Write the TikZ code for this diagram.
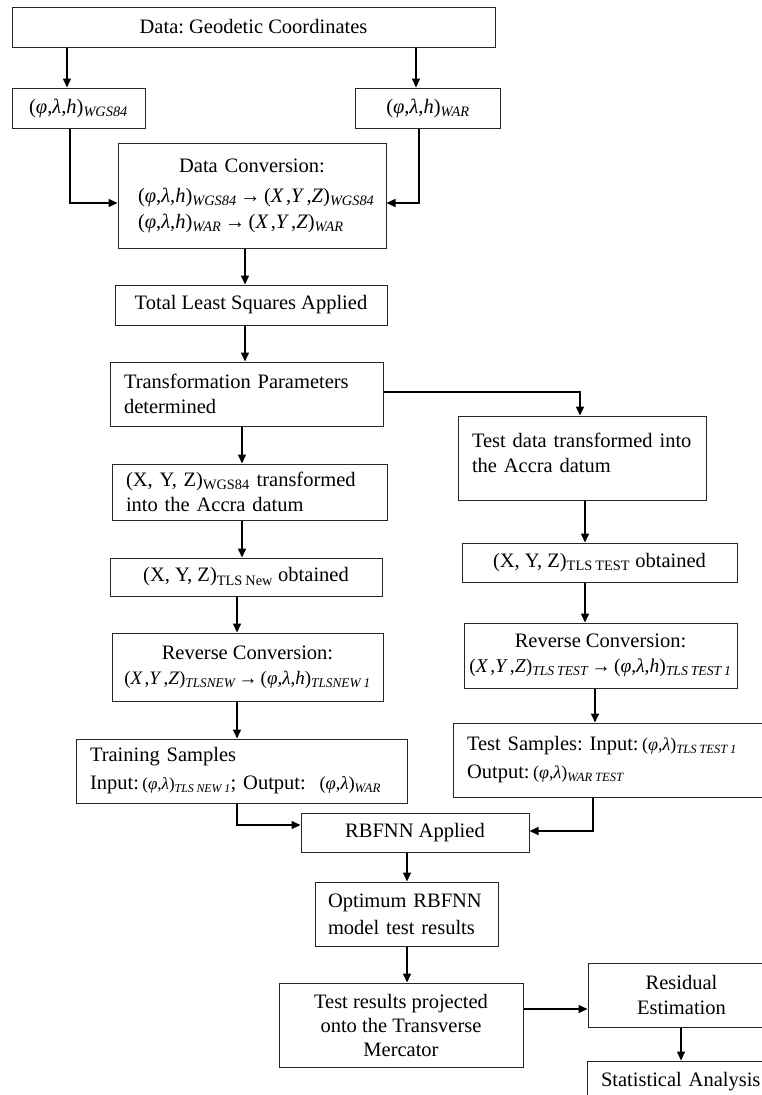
\documentclass[tikz,border=0pt]{standalone}
\usepackage{fontspec}
\setmainfont{Liberation Serif}
\usetikzlibrary{arrows.meta}
\newcommand{\plh}{(\textit{φ},\textit{λ},\textit{h})}
\newcommand{\pl}{(\textit{φ},\textit{λ})}
\newcommand{\XYZi}{(\textit{X}\kern.1em,\textit{Y}\kern.1em,\textit{Z})}
\newcommand{\isub}[1]{\textsubscript{\itshape #1}}
\newcommand{\rsub}[1]{\textsubscript{#1}}
\newcommand{\ks}{\kern.22em}
\begin{document}
\frenchspacing
\begin{tikzpicture}[x=1pt,y=-1pt,
  box/.style={draw=black!85, line width=1pt, rectangle, inner sep=0pt, align=center,
    font=\fontsize{20.5}{25}\selectfont},
  lbox/.style={box, align=left},
  arr/.style={line width=1.5pt, -{Triangle[length=9pt,width=8pt]}}]
\useasboundingbox (0,0) rectangle (762,1095);
\clip (0,0) rectangle (762,1095);

% left / main column
\node[box, minimum width=483pt, minimum height=40pt] (data) at (253.5,27) {Data: Geodetic Coordinates};
\node[box, minimum width=133pt, minimum height=40pt] (wgs) at (78.5,108) {\plh\isub{WGS84}};
\node[box, minimum width=145pt, minimum height=40pt] (war) at (428,108) {\plh\isub{WAR}};
\node[lbox, text width=228pt, inner xsep=20pt, minimum height=105pt] (dc) at (252,195.5)
  {\makebox[228pt]{Data Conversion:}\\[5pt]
   \plh\isub{WGS84}\,→\,\XYZi\isub{WGS84}\\[1pt]
   \plh\isub{WAR}\,→\,\XYZi\isub{WAR}};
\node[box, minimum width=272pt, minimum height=40pt] (tls) at (251,305) {Total Least Squares Applied};
\node[lbox, text width=245pt, inner xsep=14pt, minimum height=64pt] (tp) at (246.5,394)
  {Transformation Parameters\\determined};
\node[lbox, text width=247pt, inner xsep=14pt, minimum height=56pt] (xyzw) at (249.5,492)
  {(X, Y, Z)\rsub{WGS84} transformed\\into the Accra datum};
\node[box, minimum width=272pt, minimum height=38pt] (tlsnew) at (246,577)
  {(X, Y, Z)\rsub{TLS\ks New} obtained};
\node[box, minimum width=271pt, minimum height=68pt] (rcl) at (247.5,667)
  {Reverse Conversion:\\{\fontsize{19}{22}\selectfont \XYZi\isub{TLSNEW}\,→\,\plh\isub{TLSNEW\ks 1}}};
\node[lbox, text width=303pt, inner xsep=14pt, minimum height=64pt, font=\fontsize{20.5}{28}\selectfont] (train) at (241.5,771)
  {Training Samples\\Input:\,{\fontsize{17}{20}\selectfont\pl\isub{TLS\ks NEW\ks 1}}; Output:\ \ {\fontsize{18.5}{20}\selectfont\pl\isub{WAR}}};

% right column
\node[lbox, text width=220pt, inner xsep=14pt, minimum height=84pt] (testdata) at (582,458)
  {Test data transformed into\\the Accra datum\\[-14pt]\mbox{}};
\node[box, minimum width=275pt, minimum height=39pt] (tlstest) at (599.5,562.5)
  {(X, Y, Z)\rsub{TLS\ks TEST} obtained};
\node[box, minimum width=273pt, minimum height=65pt] (rcr) at (600.5,655.5)
  {Reverse Conversion:\\{\fontsize{19.5}{22}\selectfont \XYZi\isub{TLS\ks TEST}\,→\,\plh\isub{TLS\ks TEST\ks 1}}};
\node[lbox, text width=294pt, inner xsep=14pt, minimum height=74pt, font=\fontsize{20.5}{28}\selectfont] (tsamp) at (614,760)
  {Test Samples: Input:\,{\fontsize{18}{20}\selectfont\pl\isub{TLS\ks TEST\ks 1}}\\Output:\,{\fontsize{18}{20}\selectfont\pl\isub{WAR\ks TEST}}};

% bottom
\node[box, minimum width=228pt, minimum height=39pt] (rbf) at (415,832.5) {RBFNN Applied};
\node[lbox, text width=157pt, inner xsep=13pt, minimum height=64pt, font=\fontsize{20.5}{27}\selectfont] (opt) at (406.5,914)
  {Optimum RBFNN\\model test results};
\node[box, minimum width=244pt, minimum height=84pt, font=\fontsize{20.5}{24}\selectfont] (tres) at (401,1025)
  {Test results projected\\onto the Transverse\\Mercator};
\node[box, minimum width=187pt, minimum height=64pt] (resid) at (681.5,995) {Residual\\Estimation};
\node[lbox, text width=160pt, inner xsep=14pt, minimum height=42pt] (stat) at (681,1082) {Statistical Analysis};

% helper coordinates for connector positions
\coordinate (x67) at (67,0);
\coordinate (x416) at (416,0);
\coordinate (x70) at (70,0);
\coordinate (x419) at (419,0);
\coordinate (y203) at (0,203);
\coordinate (x245) at (245,0);
\coordinate (x242) at (242,0);
\coordinate (x237) at (237,0);
\coordinate (y392) at (0,392);
\coordinate (x580) at (580,0);
\coordinate (x585) at (585,0);
\coordinate (x595) at (595,0);
\coordinate (x593) at (593,0);
\coordinate (y825) at (0,825);
\coordinate (y831) at (0,831);
\coordinate (x407) at (407,0);
\coordinate (y1009) at (0,1009);
\coordinate (x681) at (681,0);

\draw[arr] (data.south -| x67) -- (wgs.north -| x67);
\draw[arr] (data.south -| x416) -- (war.north -| x416);
\draw[arr] (wgs.south -| x70) |- (dc.west |- y203);
\draw[arr] (war.south -| x419) |- (dc.east |- y203);
\draw[arr] (dc.south -| x245) -- (tls.north -| x245);
\draw[arr] (tls.south -| x245) -- (tp.north -| x245);
\draw[arr] (tp.east |- y392) -| (testdata.north -| x580);
\draw[arr] (tp.south -| x242) -- (xyzw.north -| x242);
\draw[arr] (xyzw.south -| x242) -- (tlsnew.north -| x242);
\draw[arr] (tlsnew.south -| x237) -- (rcl.north -| x237);
\draw[arr] (rcl.south -| x237) -- (train.north -| x237);
\draw[arr] (train.south -| x237) |- (rbf.west |- y825);
\draw[arr] (testdata.south -| x585) -- (tlstest.north -| x585);
\draw[arr] (tlstest.south -| x585) -- (rcr.north -| x585);
\draw[arr] (rcr.south -| x595) -- (tsamp.north -| x595);
\draw[arr] (tsamp.south -| x593) |- (rbf.east |- y831);
\draw[arr] (rbf.south -| x407) -- (opt.north -| x407);
\draw[arr] (opt.south -| x407) -- (tres.north -| x407);
\draw[arr] (tres.east |- y1009) -- (resid.west |- y1009);
\draw[arr] (resid.south -| x681) -- (stat.north -| x681);
\end{tikzpicture}
\end{document}
